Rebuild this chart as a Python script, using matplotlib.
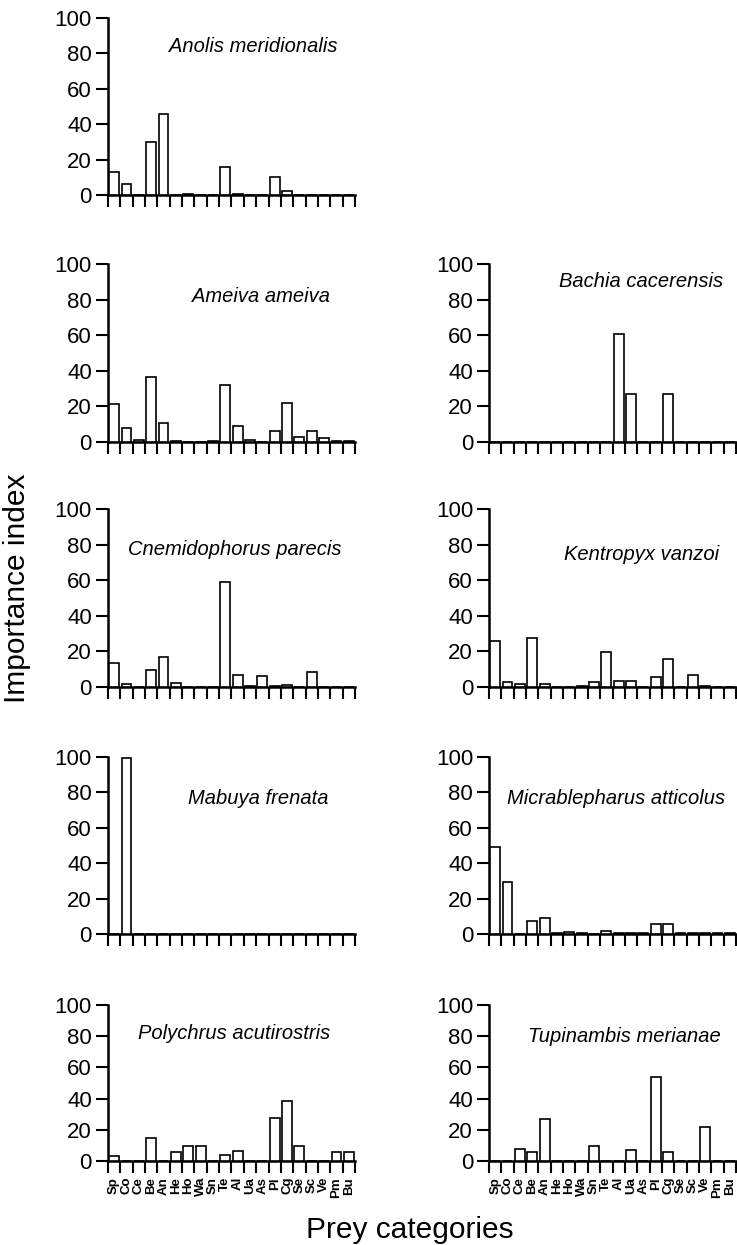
import matplotlib
matplotlib.use('Agg')
import matplotlib.pyplot as plt
import numpy as np

plt.rcParams['font.family'] = ['Liberation Sans', 'DejaVu Sans']

# prey categories (x axis)
categories = ['Sp', 'Co', 'Ce', 'Be', 'An', 'He', 'Ho', 'Wa', 'Sn', 'Te',
              'Al', 'Ua', 'As', 'Pl', 'Cg', 'Se', 'Sc', 'Ve', 'Pm', 'Bu']

# importance index per species
anolis = [13.2, 6.0, 0, 30, 45.5, 0, 0.8, 0, 0, 15.7, 0.5, 0, 0, 10, 2.5, 0, 0, 0, 0, 0]
ameiva = [21.1, 7.7, 0.9, 36.4, 10.8, 0.5, 0, 0, 0.5, 31.8, 8.8, 1.1, 0, 6, 21.9, 2.6, 6.2, 2, 0.3, 0.3]
bachia = [0, 0, 0, 0, 0, 0, 0, 0, 0, 0, 60.8, 27, 0, 0, 27, 0, 0, 0, 0, 0]
cnemidophorus = [13.5, 1.9, 0, 9.8, 16.7, 2.4, 0, 0, 0, 59.2, 6.6, 0.5, 6, 0.3, 1.1, 0, 8.6, 0, 0, 0]
kentropyx = [25.9, 2.8, 1.9, 27.6, 1.5, 0, 0, 0.5, 2.6, 19.7, 3.2, 3.2, 0, 5.6, 15.6, 0, 6.6, 0.7, 0, 0]
mabuya = [0, 99.5, 0, 0, 0, 0, 0, 0, 0, 0, 0, 0, 0, 0, 0, 0, 0, 0, 0, 0]
micrablepharus = [49, 29.5, 0, 7.2, 8.8, 0.3, 1.3, 0.5, 0, 1.9, 0.5, 0.5, 0.5, 5.7, 5.7, 0.5, 0.5, 0.5, 0.5, 0.3]
polychrus = [3.2, 0, 0, 14.7, 0, 5.9, 9.5, 9.5, 0, 3.6, 6.3, 0, 0, 27.4, 38.3, 9.5, 0, 0, 5.7, 5.7]
tupinambis = [0, 0, 7.8, 5.7, 27, 0, 0, 0, 9.9, 0, 0, 6.9, 0, 54, 5.7, 0, 0, 21.7, 0, 0]

fig = plt.figure(figsize=(7.37, 12.45), dpi=100)

left_x, right_x, ax_w = 0.1465, 0.6635, 0.3352
# (bottom, height) of each row in figure fraction
rows = [(0.8434, 0.1422), (0.6450, 0.1430), (0.4482, 0.1430),
        (0.2498, 0.1422), (0.0675, 0.1253)]


def draw_panel(col, row, values, name, tx, ty, show_labels=False):
    bottom, height = rows[row]
    x0 = left_x if col == 0 else right_x
    ax = fig.add_axes([x0, bottom, ax_w, height])
    x = np.arange(len(categories))
    ax.bar(x, values, width=0.8, color='white', edgecolor='black',
           linewidth=1.2, zorder=3)
    ax.set_xlim(-0.5, len(categories) - 0.5)
    ax.set_ylim(0, 100)
    ax.spines[['top', 'right']].set_visible(False)
    for s in ['left', 'bottom']:
        ax.spines[s].set_linewidth(1.8)
    ax.set_yticks(range(0, 101, 20))
    ax.tick_params(axis='y', length=8.5, width=1.5, labelsize=16, pad=3)
    # ticks sit on the slot edges, labels on the bar centres
    ax.set_xticks(np.arange(-0.5, len(categories)))
    ax.set_xticklabels([])
    ax.tick_params(axis='x', which='major', length=8.5, width=1.5)
    if show_labels:
        ax.set_xticks(x, minor=True)
        ax.set_xticklabels(categories, minor=True, rotation=90,
                           fontsize=9.5, fontweight='bold')
        ax.tick_params(axis='x', which='minor', length=0, pad=11.5)
    ax.text(tx, ty, name, transform=ax.transAxes, ha='center', va='center',
            style='italic', fontsize=14.5)
    return ax


draw_panel(0, 0, anolis, 'Anolis meridionalis', 0.59, 0.836)
draw_panel(0, 1, ameiva, 'Ameiva ameiva', 0.62, 0.815)
draw_panel(1, 1, bachia, 'Bachia cacerensis', 0.617, 0.90)
draw_panel(0, 2, cnemidophorus, 'Cnemidophorus parecis', 0.515, 0.775)
draw_panel(1, 2, kentropyx, 'Kentropyx vanzoi', 0.617, 0.742)
draw_panel(0, 3, mabuya, 'Mabuya frenata', 0.61, 0.763)
draw_panel(1, 3, micrablepharus, 'Micrablepharus atticolus', 0.515, 0.763)
draw_panel(0, 4, polychrus, 'Polychrus acutirostris', 0.51, 0.82, show_labels=True)
draw_panel(1, 4, tupinambis, 'Tupinambis merianae', 0.55, 0.795, show_labels=True)

fig.text(0.023, 0.5277, 'Importance index', rotation=90, fontsize=21.5,
         ha='center', va='center')
fig.text(0.556, 0.0056, 'Prey categories', fontsize=21.5,
         ha='center', va='baseline')

fig.savefig('out.png', dpi=100)
